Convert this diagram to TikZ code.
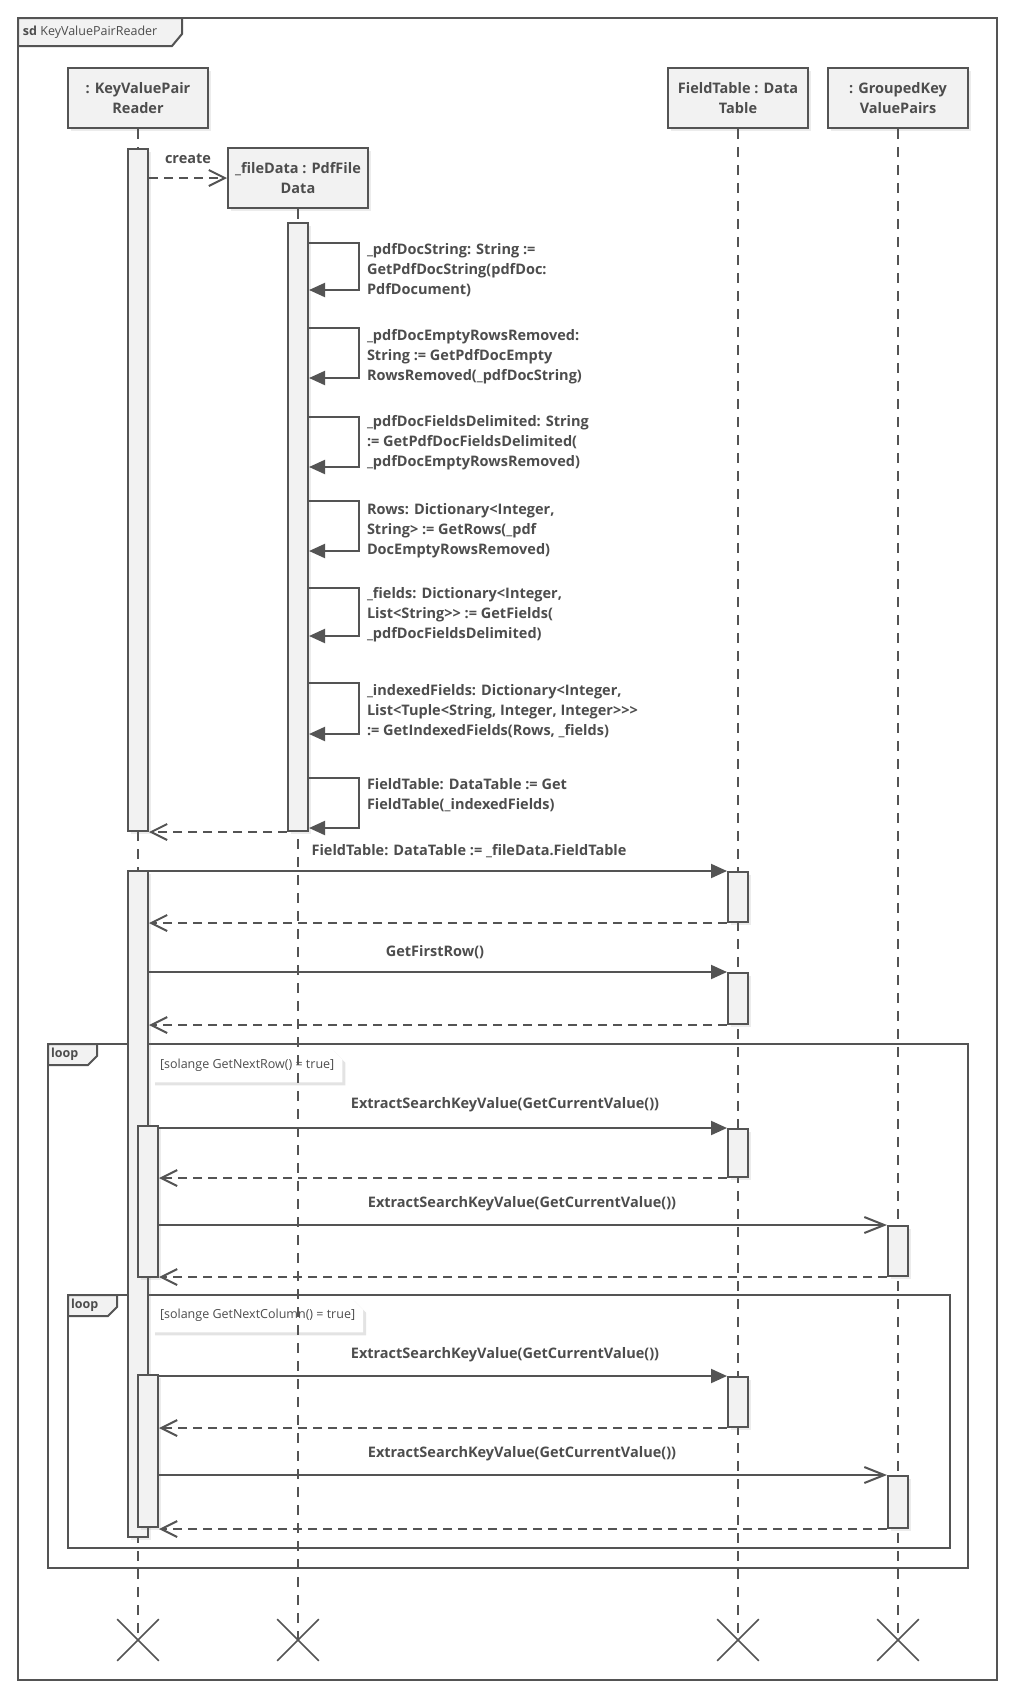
\documentclass[tikz,border=0pt]{standalone}
\usepackage{fontspec}
\newfontfamily\umlfont{Open Sans}
\usepackage{xcolor}
\usepackage{tikz}
\usetikzlibrary{arrows.meta,positioning,calc,shapes,shapes.misc,shadows}
\definecolor{umlline}{HTML}{545454}
\definecolor{umltext}{HTML}{4D4D4D}
\definecolor{umlfill}{HTML}{F2F2F2}

\begin{document}
\begin{tikzpicture}[
    x=1pt, y=-1pt, line width=2pt, color=umlline,
    every node/.style={text=umltext, font=\umlfont\bfseries\fontsize{14.5}{20}\selectfont},
    soft/.style={drop shadow={opacity=0.15, shadow xshift=3pt, shadow yshift=-3pt}},
    head/.style={rectangle, draw=umlline, fill=umlfill, soft, minimum width=140pt, minimum height=60pt, align=center},
    bar/.style={rectangle, draw=umlline, fill=umlfill, soft, minimum width=20pt, inner sep=0pt, anchor=north},
    life/.style={dash pattern=on 10pt off 8pt},
    call/.style={-{Triangle[length=16pt, width=14pt]}},
    async/.style={-{Straight Barb[length=20pt, width=16pt]}},
    reply/.style={dash pattern=on 9pt off 6pt, -{Straight Barb[length=16pt, width=16pt]}},
    msg/.style={inner sep=0pt},
    note/.style={align=left, anchor=west, inner sep=0pt},
    guard/.style={chamfered rectangle, chamfered rectangle corners=north east,
        chamfered rectangle xsep=6pt, chamfered rectangle ysep=6pt, fill=white,
        drop shadow={opacity=0.22, shadow xshift=3pt, shadow yshift=-3pt},
        anchor=west, inner xsep=2pt, inner ysep=5pt, font=\umlfont\fontsize{12.5}{15}\selectfont},
    tab/.style={fill=umlfill},
    tabtext/.style={anchor=west, inner sep=0pt, font=\umlfont\fontsize{12.5}{15}\selectfont},
    kill/.style={cross out, draw=umlline, line width=1.6pt, minimum size=40pt}
]
\fill[white] (0,0) rectangle (1017,1700);
\useasboundingbox (0,0) rectangle (1017,1700);

% frame
\draw (18,18) rectangle (997,1680);
\draw[tab] (18,18) -- (182,18) -- (182,34) -- (172,46) -- (18,46) -- cycle;
\node[tabtext] (sd) at (22,32) {\textbf{sd} KeyValuePairReader};

% loops
\draw (48,1044) rectangle (968,1568);
\draw[tab] (48,1044) -- (97,1044) -- (97,1056) -- (88,1065) -- (48,1065) -- cycle;
\node[tabtext] (loop1) at (50,1054) {\textbf{loop}};
\node[guard] (guard1) at (151,1065) {[solange GetNextRow() = true]};

\draw (68,1295) rectangle (950,1548);
\draw[tab] (68,1295) -- (117,1295) -- (117,1307) -- (108,1316) -- (68,1316) -- cycle;
\node[tabtext] (loop2) at (70,1305) {\textbf{loop}};
\node[guard] (guard2) at (151,1315) {[solange GetNextColumn() = true]};

% lifelines
\node[head] (kvp) at (138,98) {: KeyValuePair\\Reader};
\node[head] (fd) at (298,178) {\_fileData : PdfFile\\Data};
\node[head] (ft) at (738,98) {FieldTable : Data\\Table};
\node[head] (gkv) at (898,98) {: GroupedKey\\ValuePairs};

\node[kill] (kvpx) at (138,1640) {};
\node[kill] (fdx) at (298,1640) {};
\node[kill] (ftx) at (738,1640) {};
\node[kill] (gkvx) at (898,1640) {};

\draw[life] (kvp.south) -- (kvpx.center);
\draw[life] (fd.south) -- (fdx.center);
\draw[life] (ft.south) -- (ftx.center);
\draw[life] (gkv.south) -- (gkvx.center);

% activations
\node[bar, minimum height=682pt] (kvpa1) at (138,148) {};
\node[bar, minimum height=608pt] (fda1) at (298,222) {};
\node[bar, minimum height=666pt] (kvpa2) at (138,870) {};
\node[bar, minimum height=50pt] (fta1) at (738,871) {};
\node[bar, minimum height=51pt] (fta2) at (738,972) {};
\node[bar, minimum height=151pt] (kvpa3) at (148,1125) {};
\node[bar, minimum height=48pt] (fta3) at (738,1128) {};
\node[bar, minimum height=50pt] (gkva1) at (898,1225) {};
\node[bar, minimum height=152pt] (kvpa4) at (148,1374) {};
\node[bar, minimum height=50pt] (fta4) at (738,1376) {};
\node[bar, minimum height=52pt] (gkva2) at (898,1475) {};

% create
\draw[reply] (kvpa1.east |- fd.west) -- (fd.west);
\node[msg] (create) at (188,159) {create};

% self calls
\foreach \top/\bot in {243/290,328/378,417/467,501/551,588/636,683/734,778/828}
  \draw[call] (fda1.east |- 0,\top) -- ++(50,0) |- (fda1.east |- 0,\bot);
\node[note] (s1) at (366,270) {\_pdfDocString: String :=\\GetPdfDocString(pdfDoc:\\PdfDocument)};
\node[note] (s2) at (366,357) {\_pdfDocEmptyRowsRemoved:\\String := GetPdfDocEmpty\\RowsRemoved(\_pdfDocString)};
\node[note] (s3) at (366,443) {\_pdfDocFieldsDelimited: String\\:= GetPdfDocFieldsDelimited(\\\_pdfDocEmptyRowsRemoved)};
\node[note] (s4) at (366,531) {Rows: Dictionary<Integer,\\String> := GetRows(\_pdf\\DocEmptyRowsRemoved)};
\node[note] (s5) at (366,615) {\_fields: Dictionary<Integer,\\List<String>{}> := GetFields(\\\_pdfDocFieldsDelimited)};
\node[note] (s6) at (366,711) {\_indexedFields: Dictionary<Integer,\\List<Tuple<String, Integer, Integer>{}>{}>\\:= GetIndexedFields(Rows, \_fields)};
\node[note] (s7) at (366,795) {FieldTable: DataTable := Get\\FieldTable(\_indexedFields)};
\draw[reply] (fda1.south west) -- (kvpa1.south east);

% calls
\draw[call] (kvpa2.east |- fta1.north) -- (fta1.north west);
\node[msg] (m1) at (469,851) {FieldTable: DataTable := \_fileData.FieldTable};
\draw[reply] (fta1.south west) -- (kvpa2.east |- fta1.south);

\draw[call] (kvpa2.east |- fta2.north) -- (fta2.north west);
\node[msg] (m2) at (435,952) {GetFirstRow()};
\draw[reply] (fta2.south west) -- (kvpa2.east |- fta2.south);

\draw[call] (kvpa3.east |- fta3.north) -- (fta3.north west);
\node[msg] (m3) at (505,1105) {ExtractSearchKeyValue(GetCurrentValue())};
\draw[reply] (fta3.south west) -- (kvpa3.east |- fta3.south);

\draw[async] (kvpa3.east |- gkva1.north) -- (gkva1.north west);
\node[msg] (m4) at (522,1204) {ExtractSearchKeyValue(GetCurrentValue())};
\draw[reply] (gkva1.south west) -- (kvpa3.east |- gkva1.south);

\draw[call] (kvpa4.east |- fta4.north) -- (fta4.north west);
\node[msg] (m5) at (505,1355) {ExtractSearchKeyValue(GetCurrentValue())};
\draw[reply] (fta4.south west) -- (kvpa4.east |- fta4.south);

\draw[async] (kvpa4.east |- gkva2.north) -- (gkva2.north west);
\node[msg] (m6) at (522,1454) {ExtractSearchKeyValue(GetCurrentValue())};
\draw[reply] (gkva2.south west) -- (kvpa4.east |- gkva2.south);
\end{tikzpicture}
\end{document}
